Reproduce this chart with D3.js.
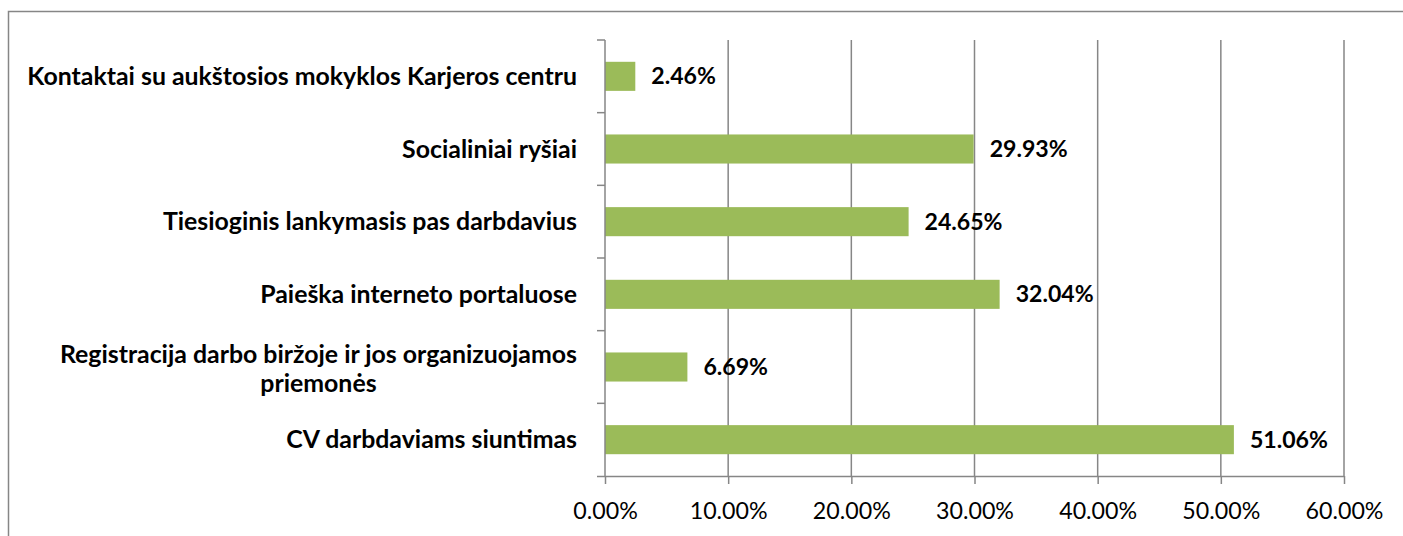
<!DOCTYPE html>
<html>
<head>
<meta charset="utf-8">
<script src="https://cdn.jsdelivr.net/npm/d3@7"></script>
<style>
  html, body { margin: 0; padding: 0; background: #fff; }
  svg { display: block; }
  text { font-family: Lato, "Open Sans", sans-serif; fill: #000; }
</style>
</head>
<body>
<svg id="chart" width="1403" height="536"></svg>
<script>
const categories = [
  "Kontaktai su aukštosios mokyklos Karjeros centru",
  "Socialiniai ryšiai",
  "Tiesioginis lankymasis pas darbdavius",
  "Paieška interneto portaluose",
  "Registracija darbo biržoje ir jos organizuojamos|priemonės",
  "CV darbdaviams siuntimas"
];
const values = [2.46, 29.93, 24.65, 32.04, 6.69, 51.06];
const tickValues = [0, 10, 20, 30, 40, 50, 60];
const tickLabels = ["0.00%", "10.00%", "20.00%", "30.00%", "40.00%", "50.00%", "60.00%"];

(function () {
const svg = d3.select("#chart");
const W = 1403, H = 536;
const pLeft = 605, pRight = 1344, pTop = 40, pBottom = 476;
const gray = "#868686";
const green = "#9BBB59";

// font size fitting helper: size such that sample text has target width
function fitSize(sample, weight, target) {
  const t = svg.append("text").attr("font-weight", weight).style("font-size", "20px").text(sample);
  const w = t.node().getComputedTextLength();
  t.remove();
  return 20 * target / w;
}
const catSize = fitSize(categories[0], "bold", 550);
const valSize = fitSize("51.06%", "bold", 78);
const tickSize = fitSize("60.00%", "normal", 78);

// outer chart border
svg.append("path")
  .attr("d", `M8.5,${H} L8.5,11.5 L${W},11.5`)
  .attr("fill", "none").attr("stroke", gray).attr("stroke-width", 1.5);

const x = d3.scaleLinear().domain([0, 60]).range([pLeft, pRight]);
const y = d3.scaleBand().domain(categories).range([pTop, pBottom]).paddingInner(0.6).paddingOuter(0.3);
const yb = d3.scaleBand().domain(categories).range([pTop, pBottom]);

// gridlines
svg.append("g").selectAll("line").data(tickValues.filter(d => d > 0)).join("line")
  .attr("x1", d => x(d)).attr("x2", d => x(d))
  .attr("y1", pTop).attr("y2", pBottom)
  .attr("stroke", gray).attr("stroke-width", 1.5);

// bars
svg.append("g").selectAll("rect").data(values).join("rect")
  .attr("x", x(0))
  .attr("y", (d, i) => y(categories[i]))
  .attr("width", d => x(d) - x(0))
  .attr("height", y.bandwidth())
  .attr("fill", green);

// x axis
const xAxis = d3.axisBottom(x).tickValues(tickValues)
  .tickFormat((d, i) => tickLabels[i]).tickSize(8).tickSizeOuter(0);
const gx = svg.append("g").attr("transform", `translate(0,${pBottom})`).call(xAxis);
gx.selectAll("path,line").attr("stroke", gray).attr("stroke-width", 1.5);
gx.selectAll("text").style("font-size", tickSize + "px").style("font-family", "Lato, sans-serif")
  .attr("fill", "#000").attr("y", 43).attr("dy", 0);
gx.select(".domain").attr("d", `M${pLeft - 8},0.5H${pRight}`);

// y axis line and category ticks
svg.append("line").attr("x1", pLeft).attr("x2", pLeft).attr("y1", pTop).attr("y2", pBottom)
  .attr("stroke", gray).attr("stroke-width", 1.5);
const boundaries = categories.map(c => yb(c));
svg.append("g").selectAll("line").data(boundaries).join("line")
  .attr("x1", pLeft - 8).attr("x2", pLeft)
  .attr("y1", d => d).attr("y2", d => d)
  .attr("stroke", gray).attr("stroke-width", 1.5);

// category labels
const labelRight = 577;
const catG = svg.append("g");
categories.forEach((c, i) => {
  const lines = c.split("|");
  const cy = yb(c) + yb.bandwidth() / 2;
  const lh = 29;
  const t = catG.append("text")
    .attr("font-weight", "bold").style("font-size", catSize + "px");
  if (lines.length === 1) {
    t.attr("x", labelRight).attr("y", cy).attr("dy", "0.35em").attr("text-anchor", "end").text(lines[0]);
  } else {
    t.attr("text-anchor", "middle");
    lines.forEach((ln, j) => {
      t.append("tspan").attr("y", cy + 2 + (j - (lines.length - 1) / 2) * lh).attr("dy", "0.35em").text(ln);
    });
    const w = Math.max(...t.selectAll("tspan").nodes().map(n => n.getComputedTextLength()));
    t.selectAll("tspan").attr("x", labelRight - w / 2);
  }
});

// value labels
svg.append("g").selectAll("text").data(values).join("text")
  .attr("x", d => x(d) + 16)
  .attr("y", (d, i) => yb(categories[i]) + yb.bandwidth() / 2)
  .attr("dy", "0.35em")
  .attr("font-weight", "bold").style("font-size", valSize + "px")
  .text(d => d.toFixed(2) + "%");
})();
</script>
</body>
</html>
